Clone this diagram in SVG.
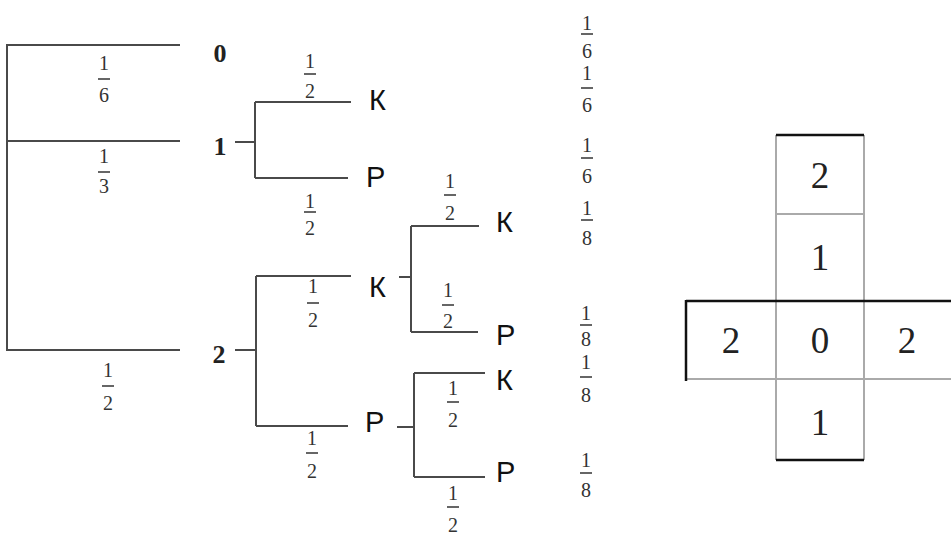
<svg xmlns="http://www.w3.org/2000/svg" width="951" height="536" viewBox="0 0 951 536">
<style>
.ln{stroke:#4a4a4a;stroke-width:2;fill:none}
.bar{stroke:#333;stroke-width:1.5}
.fr{font-family:"Liberation Serif",serif;font-size:20px;fill:#333;text-anchor:middle}
.lbl{font-family:"Liberation Sans",Arial,sans-serif;font-size:29px;fill:#111}
.num{font-family:"Liberation Serif",serif;font-size:26px;font-weight:bold;fill:#222;text-anchor:middle}
.cell{font-family:"Liberation Serif",serif;font-size:37px;fill:#222;text-anchor:middle}
.g{stroke:#aaa;stroke-width:2}
.b{stroke:#111;stroke-width:2.5}
</style>
<rect width="951" height="536" fill="#fff"/>
<g id="connectors">
<path class="ln" d="M7,44 V351 M7,45 H180 M7,141 H180 M7,350 H180"/>
<path class="ln" d="M235,142 H255 M255,102 V178 M255,102 H351 M255,178 H348"/>
<path class="ln" d="M235,350 H256 M256,276 V426 M256,276 H351 M256,426 H348"/>
<path class="ln" d="M399,277 H411 M411,226 V332 M411,226 H479 M411,332 H478"/>
<path class="ln" d="M397,427 H414 M414,373 V477 M414,373 H485 M414,477 H485"/>
</g>
<g id="root-labels">
<text class="num" x="220" y="62">0</text>
<text class="num" x="220" y="155">1</text>
<text class="num" x="219" y="363">2</text>
</g>
<g id="outcomes">
<text class="lbl" x="369" y="110">К</text>
<text class="lbl" x="366" y="187">Р</text>
<text class="lbl" x="369" y="297">К</text>
<text class="lbl" x="496" y="232">К</text>
<text class="lbl" x="496" y="345">Р</text>
<text class="lbl" x="365" y="432">Р</text>
<text class="lbl" x="496" y="390">К</text>
<text class="lbl" x="496" y="482">Р</text>
</g>
<g id="branch-fractions">
<g><text class="fr" x="104" y="70">1</text><line class="bar" x1="98" y1="79" x2="110" y2="79"/><text class="fr" x="104" y="102">6</text></g>
<g><text class="fr" x="104" y="163">1</text><line class="bar" x1="98" y1="172" x2="110" y2="172"/><text class="fr" x="104" y="193">3</text></g>
<g><text class="fr" x="108" y="377">1</text><line class="bar" x1="102" y1="386" x2="114" y2="386"/><text class="fr" x="108" y="410">2</text></g>
<g><text class="fr" x="310" y="68">1</text><line class="bar" x1="304" y1="74" x2="316" y2="74"/><text class="fr" x="310" y="98">2</text></g>
<g><text class="fr" x="310" y="208">1</text><line class="bar" x1="304" y1="212" x2="316" y2="212"/><text class="fr" x="310" y="235">2</text></g>
<g><text class="fr" x="313" y="293">1</text><line class="bar" x1="307" y1="303" x2="319" y2="303"/><text class="fr" x="313" y="327">2</text></g>
<g><text class="fr" x="450" y="188">1</text><line class="bar" x1="444" y1="195" x2="456" y2="195"/><text class="fr" x="450" y="220">2</text></g>
<g><text class="fr" x="448" y="297">1</text><line class="bar" x1="442" y1="305" x2="454" y2="305"/><text class="fr" x="448" y="328">2</text></g>
<g><text class="fr" x="312" y="445">1</text><line class="bar" x1="306" y1="453" x2="318" y2="453"/><text class="fr" x="312" y="478">2</text></g>
<g><text class="fr" x="453" y="395">1</text><line class="bar" x1="447" y1="402" x2="459" y2="402"/><text class="fr" x="453" y="427">2</text></g>
<g><text class="fr" x="453" y="500">1</text><line class="bar" x1="447" y1="507" x2="459" y2="507"/><text class="fr" x="453" y="532">2</text></g>
</g>
<g id="result-fractions">
<g><text class="fr" x="587" y="30">1</text><line class="bar" x1="581" y1="34" x2="593" y2="34"/><text class="fr" x="587" y="58">6</text></g>
<g><text class="fr" x="587" y="80">1</text><line class="bar" x1="581" y1="88" x2="593" y2="88"/><text class="fr" x="587" y="112">6</text></g>
<g><text class="fr" x="587" y="152">1</text><line class="bar" x1="581" y1="158" x2="593" y2="158"/><text class="fr" x="587" y="183">6</text></g>
<g><text class="fr" x="587" y="215">1</text><line class="bar" x1="581" y1="220" x2="593" y2="220"/><text class="fr" x="587" y="245">8</text></g>
<g><text class="fr" x="586" y="320">1</text><line class="bar" x1="580" y1="325" x2="592" y2="325"/><text class="fr" x="586" y="346">8</text></g>
<g><text class="fr" x="586" y="369">1</text><line class="bar" x1="580" y1="377" x2="592" y2="377"/><text class="fr" x="586" y="402">8</text></g>
<g><text class="fr" x="586" y="467">1</text><line class="bar" x1="580" y1="473" x2="592" y2="473"/><text class="fr" x="586" y="497">8</text></g>
</g>
<g id="cross-table">
<line class="g" x1="776" y1="135" x2="776" y2="460"/>
<line class="g" x1="864" y1="135" x2="864" y2="460"/>
<line class="g" x1="776" y1="214" x2="864" y2="214"/>
<line class="g" x1="686" y1="379" x2="951" y2="379"/>
<line class="b" x1="776" y1="135" x2="864" y2="135"/>
<line class="b" x1="686" y1="301" x2="951" y2="301"/>
<line class="b" x1="686" y1="300" x2="686" y2="381"/>
<line class="b" x1="776" y1="460" x2="864" y2="460"/>
<text class="cell" x="820" y="188">2</text>
<text class="cell" x="820" y="270">1</text>
<text class="cell" x="731" y="353">2</text>
<text class="cell" x="820" y="353">0</text>
<text class="cell" x="907" y="353">2</text>
<text class="cell" x="820" y="435">1</text>
</g>
</svg>
